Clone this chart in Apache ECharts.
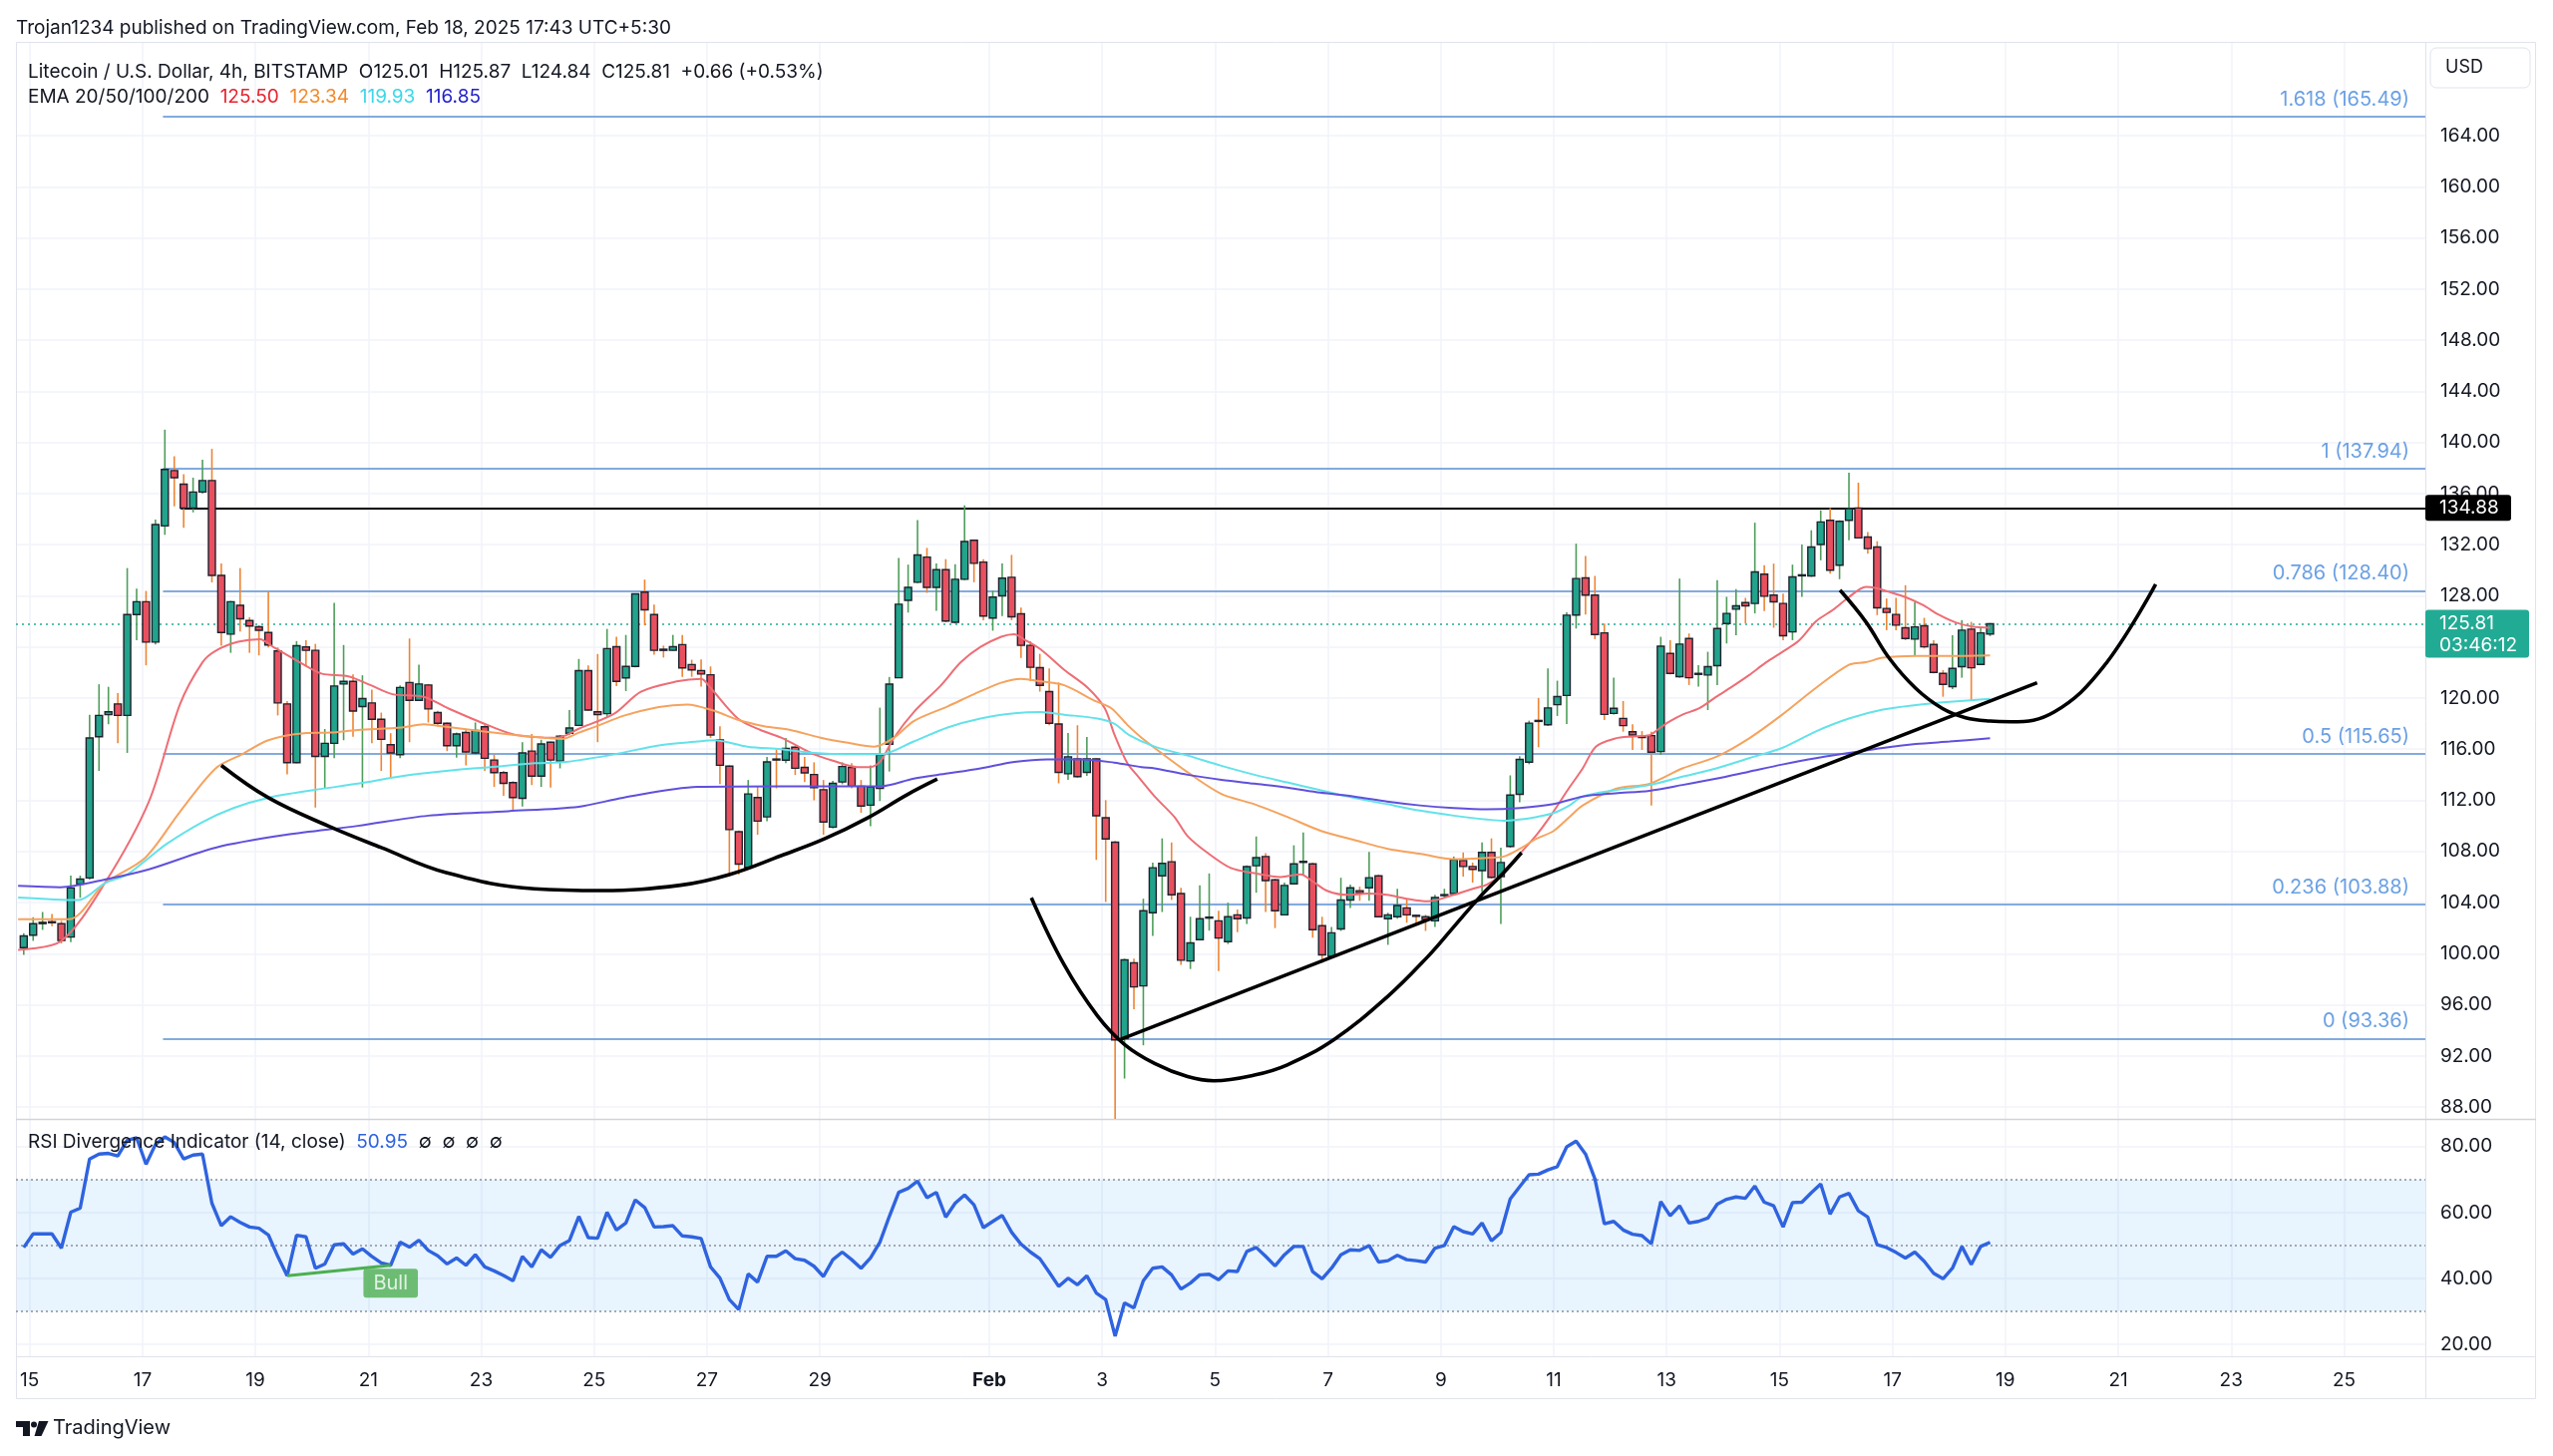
<!DOCTYPE html>
<html>
<head>
<meta charset="utf-8">
<title>Litecoin / U.S. Dollar, 4h</title>
<script src="https://cdn.jsdelivr.net/npm/echarts@6/dist/echarts.min.js"></script>
<style>
  html, body { margin: 0; padding: 0; background: #ffffff; }
  #chart { width: 2560px; height: 1460px; }
</style>
</head>
<body>
<div id="chart"></div>
<script>
// 4h bars, first bar opens Jan 14 21:30 (UTC+5:30), last bar Feb 18 17:30
const opens = [
  100.47, 101.45, 102.35, 102.5, 102.34, 101.3, 105.45, 105.92, 116.97, 118.7,
  119.54, 118.64, 126.53, 127.54, 124.38, 133.47, 137.8, 136.74, 134.86, 136.12,
  137.02, 129.6, 125.0, 127.26, 126.06, 125.58, 125.13, 123.68, 119.54, 114.95,
  124.0, 123.73, 115.43, 116.46, 121.1, 121.3, 119.34, 119.62, 118.34, 116.35,
  115.57, 121.22, 119.82, 121.02, 118.87, 118.03, 116.27, 117.3, 115.71, 117.75,
  115.15, 114.17, 113.39, 112.16, 115.85, 113.89, 116.55, 115.07, 117.25, 117.86,
  122.14, 118.92, 118.78, 124.02, 121.58, 122.48, 128.29, 126.53, 123.82, 123.73,
  124.18, 122.62, 122.15, 121.82, 116.72, 114.67, 109.54, 106.75, 112.21, 110.7,
  115.23, 115.14, 116.16, 114.58, 114.02, 112.83, 109.9, 113.43, 114.58, 113.1,
  111.62, 112.93, 116.39, 121.59, 127.64, 129.06, 131.03, 128.66, 130.04, 125.93,
  129.29, 132.35, 130.64, 126.26, 128.0, 129.45, 126.59, 124.12, 122.38, 120.5,
  117.97, 114.08, 115.24, 114.18, 115.24, 110.63, 108.72, 93.35, 99.28, 97.48,
  103.2, 106.09, 107.19, 104.71, 99.43, 101.1, 102.8, 102.57, 100.94, 103.04,
  102.79, 106.88, 107.6, 105.78, 103.04, 105.46, 107.2, 107.03, 102.19, 99.8,
  101.94, 104.2, 104.93, 105.15, 106.09, 102.73, 102.89, 103.58, 103.0, 102.89,
  102.57, 104.55, 104.71, 107.29, 106.82, 106.5, 107.92, 106.03, 108.39, 112.47,
  114.98, 118.25, 117.91, 119.48, 120.2, 126.49, 129.4, 128.05, 125.1, 118.8,
  118.41, 117.37, 116.99, 117.06, 115.81, 123.49, 121.67, 124.66, 121.9, 121.8,
  122.53, 125.83, 126.95, 127.47, 127.4, 129.69, 128.05, 127.4, 125.18, 129.6,
  129.56, 132.01, 133.91, 130.39, 133.91, 134.87, 132.6, 131.82, 127.01, 126.54,
  125.5, 124.61, 125.65, 124.19, 121.93, 120.89, 122.45, 125.39, 122.63, 125.01
];
const highs = [
  101.6, 102.85, 103.26, 103.1, 102.57, 106.1, 106.11, 118.7, 121.08, 120.88,
  120.38, 130.17, 128.57, 128.38, 133.97, 141.0, 138.92, 137.52, 137.24, 138.64,
  139.5, 130.53, 127.6, 130.17, 126.33, 125.69, 128.35, 123.96, 119.76, 124.46,
  124.52, 124.24, 117.58, 127.45, 124.15, 121.86, 121.78, 120.66, 118.86, 117.25,
  121.0, 124.66, 122.62, 121.1, 119.0, 118.09, 117.3, 117.52, 118.09, 117.95,
  115.57, 114.3, 113.5, 116.55, 117.19, 116.74, 116.6, 117.1, 119.06, 123.06,
  122.56, 123.45, 125.41, 124.8, 124.94, 128.2, 129.27, 127.31, 124.1, 124.94,
  124.94, 123.0, 123.03, 122.47, 117.8, 114.74, 109.64, 113.59, 113.1, 115.4,
  115.96, 116.88, 116.22, 115.4, 114.97, 113.59, 113.53, 114.97, 114.9, 113.59,
  114.74, 119.25, 121.65, 130.96, 130.44, 133.93, 131.75, 130.54, 130.87, 130.47,
  135.08, 132.4, 130.87, 128.4, 130.54, 131.2, 127.08, 124.45, 123.46, 122.31,
  121.22, 117.27, 117.87, 116.95, 115.3, 112.01, 108.82, 99.61, 99.61, 104.3,
  107.13, 109.02, 108.7, 105.15, 102.89, 105.34, 106.28, 103.36, 103.99, 103.45,
  106.91, 109.17, 107.86, 105.87, 105.56, 108.48, 109.49, 107.13, 102.89, 102.1,
  105.94, 105.4, 105.24, 107.97, 106.19, 103.2, 105.08, 104.3, 103.04, 103.04,
  104.61, 105.08, 107.6, 107.92, 107.13, 108.7, 109.02, 108.29, 113.95, 115.45,
  118.23, 120.01, 122.31, 121.36, 126.7, 132.08, 131.12, 129.56, 125.83, 121.59,
  119.77, 117.94, 117.42, 117.37, 124.79, 124.53, 129.35, 125.05, 122.58, 123.62,
  129.22, 127.92, 128.52, 127.84, 133.72, 130.39, 130.52, 128.18, 130.44, 132.01,
  133.13, 134.69, 134.87, 133.91, 137.63, 136.85, 132.99, 132.27, 127.79, 127.84,
  128.83, 127.53, 126.28, 124.53, 122.19, 124.92, 126.1, 125.96, 125.5, 125.87
];
const lows = [
  99.9, 101.0, 101.86, 102.15, 100.8, 100.9, 104.38, 105.8, 114.3, 117.95,
  116.46, 115.71, 124.52, 122.56, 124.2, 132.77, 135.0, 133.33, 134.53, 136.0,
  129.05, 124.1, 123.54, 125.2, 123.54, 123.34, 123.96, 118.64, 114.03, 114.9,
  122.56, 111.43, 112.91, 115.3, 116.7, 116.97, 113.0, 116.46, 114.3, 113.75,
  115.3, 116.55, 119.76, 118.09, 117.8, 115.85, 115.34, 114.73, 115.6, 114.3,
  113.05, 112.35, 111.23, 111.51, 113.19, 113.05, 113.0, 114.5, 117.1, 117.8,
  119.0, 116.55, 118.5, 120.94, 120.55, 122.4, 125.69, 123.4, 123.17, 123.7,
  121.66, 121.66, 120.9, 116.88, 113.26, 106.2, 106.19, 106.68, 109.3, 110.37,
  112.93, 114.9, 113.98, 113.43, 112.0, 109.31, 109.8, 113.26, 112.93, 111.02,
  109.97, 111.94, 114.25, 121.55, 126.69, 128.99, 128.23, 126.82, 125.93, 125.83,
  129.22, 129.06, 126.09, 125.27, 126.42, 126.09, 123.13, 121.32, 120.5, 117.87,
  113.33, 113.59, 113.75, 113.92, 107.34, 104.05, 86.87, 90.23, 95.65, 92.83,
  101.38, 103.26, 104.2, 99.12, 98.8, 101.05, 101.8, 98.64, 100.75, 101.69,
  102.32, 104.77, 103.26, 102.0, 103.0, 105.4, 106.18, 101.25, 99.28, 99.74,
  101.78, 103.58, 104.14, 104.14, 102.86, 100.69, 102.73, 102.42, 102.32, 101.78,
  102.1, 104.39, 104.61, 106.03, 105.56, 104.83, 105.87, 102.32, 108.29, 111.84,
  114.82, 116.15, 117.82, 118.6, 117.97, 125.44, 126.54, 124.61, 118.28, 118.72,
  117.37, 115.94, 115.94, 111.59, 115.55, 121.85, 121.59, 121.02, 120.89, 119.06,
  121.02, 124.27, 124.92, 125.83, 126.62, 126.8, 125.5, 124.53, 124.53, 127.92,
  129.48, 130.78, 129.74, 129.3, 132.35, 132.48, 131.3, 126.49, 125.31, 125.31,
  124.53, 123.36, 123.88, 121.93, 120.1, 120.7, 121.59, 119.84, 122.58, 124.84
];
const closes = [
  101.39, 102.34, 102.45, 102.45, 101.03, 105.14, 105.84, 116.88, 118.64, 118.92,
  118.64, 126.53, 127.54, 124.38, 133.58, 137.88, 137.24, 134.86, 136.12, 137.02,
  129.6, 125.13, 127.54, 126.2, 125.64, 125.3, 124.15, 119.62, 114.95, 124.1,
  123.73, 115.43, 116.46, 120.94, 121.3, 118.98, 119.96, 118.34, 116.77, 115.71,
  120.83, 119.82, 121.1, 119.15, 118.03, 116.27, 117.19, 115.79, 117.47, 115.29,
  114.17, 113.33, 112.21, 115.71, 113.89, 116.41, 115.15, 117.02, 117.66, 122.14,
  119.06, 118.7, 123.87, 121.3, 122.48, 128.15, 126.9, 123.73, 123.73, 124.02,
  122.36, 122.2, 121.88, 117.11, 114.74, 109.71, 107.01, 112.5, 110.37, 115.0,
  115.17, 116.06, 114.51, 114.15, 112.99, 110.3, 113.33, 114.64, 113.1, 111.55,
  113.03, 115.56, 121.09, 127.34, 128.66, 131.2, 128.66, 130.04, 126.03, 129.29,
  132.25, 130.54, 126.42, 127.9, 129.38, 126.36, 124.12, 122.41, 120.99, 118.03,
  114.18, 115.4, 113.85, 115.24, 110.79, 108.98, 93.25, 99.51, 97.4, 103.36,
  106.72, 107.07, 104.61, 99.49, 100.84, 102.73, 102.86, 101.22, 102.89, 102.73,
  106.81, 107.51, 105.72, 103.36, 105.34, 107.03, 107.22, 101.88, 99.9, 101.63,
  104.2, 105.15, 104.77, 105.94, 102.89, 103.04, 103.77, 103.04, 102.95, 102.67,
  104.39, 104.62, 107.35, 106.82, 106.6, 107.92, 105.97, 107.13, 112.41, 115.2,
  118.04, 118.2, 119.23, 120.11, 126.48, 129.35, 128.05, 124.97, 118.72, 119.2,
  117.84, 117.11, 116.97, 115.76, 124.06, 121.93, 124.22, 121.59, 121.93, 122.45,
  125.44, 126.62, 127.21, 127.21, 129.87, 127.97, 127.53, 124.87, 129.48, 129.64,
  131.82, 133.78, 130.0, 133.83, 134.82, 132.53, 131.69, 127.06, 126.7, 125.7,
  124.66, 125.57, 124.01, 122.01, 121.07, 122.32, 125.31, 122.37, 125.1, 125.81
];

// RSI(14) per bar
const rsi = [
  49.4, 53.5, 53.5, 53.5, 49.2, 60.1, 61.3, 76.2, 77.7, 77.9,
  77.1, 81.9, 82.6, 74.6, 80.6, 82.9, 81.2, 76.2, 77.4, 77.7,
  62.8, 56.0, 58.7, 57.0, 55.6, 55.2, 53.2, 46.7, 40.8, 53.1,
  52.6, 43.1, 44.4, 50.2, 50.5, 47.4, 49.0, 46.7, 44.7, 44.0,
  51.0, 49.5, 51.6, 48.5, 46.9, 44.4, 46.2, 44.0, 47.2, 43.5,
  42.3, 40.9, 39.3, 46.7, 43.5, 48.7, 46.4, 50.0, 51.5, 58.8,
  52.4, 52.2, 60.1, 54.7, 56.8, 63.8, 61.5, 55.6, 55.7, 56.0,
  52.9, 52.6, 52.1, 43.5, 40.1, 33.6, 30.6, 41.4, 38.9, 46.7,
  46.7, 48.4, 46.0, 45.5, 43.7, 40.6, 45.7, 48.0, 45.7, 43.1,
  46.2, 51.0, 58.8, 66.1, 67.3, 69.5, 64.5, 66.1, 58.6, 62.8,
  65.3, 62.3, 55.4, 57.3, 59.1, 54.0, 50.4, 48.0, 46.0, 41.9,
  37.6, 40.1, 38.1, 40.8, 35.6, 33.6, 22.5, 32.6, 31.1, 39.3,
  43.1, 43.5, 41.1, 36.8, 38.6, 41.1, 41.3, 39.6, 42.3, 42.1,
  48.2, 49.4, 46.7, 43.8, 47.2, 49.7, 49.7, 42.1, 39.9, 43.1,
  47.2, 48.7, 48.5, 50.0, 45.0, 45.4, 47.0, 45.7, 45.4, 45.0,
  49.2, 50.0, 55.7, 54.2, 53.5, 56.8, 51.4, 53.9, 64.1, 67.8,
  71.4, 71.6, 72.9, 73.9, 79.9, 81.6, 77.7, 70.2, 56.6, 57.3,
  54.7, 53.4, 53.0, 50.5, 63.3, 59.0, 62.0, 56.8, 57.3, 58.3,
  62.5, 64.0, 64.7, 64.3, 68.0, 63.1, 62.0, 55.6, 63.0, 63.1,
  66.0, 68.6, 59.5, 64.7, 65.8, 60.5, 58.6, 50.2, 49.4, 47.9,
  46.2, 48.0, 45.2, 41.6, 39.9, 43.1, 49.7, 44.2, 49.7, 50.95
];

// EMA readings as [bar index, value]
const ema20Pts = [
  [-0.6, 100.3], [4, 101.0], [8.6, 105.5], [13.3, 111.9], [16.6, 119.5], [19, 122.8], [20.4, 123.7],
  [22.8, 124.4], [25.1, 124.6], [26.5, 124.0], [29.8, 122.6], [31.7, 121.9], [34.5, 121.7], [36.9, 121.0],
  [39.2, 120.3], [42.5, 120.1], [45.4, 119.1], [49.6, 117.8], [52.4, 117.1], [56.7, 116.9], [59, 117.6],
  [62.8, 118.8], [65.6, 120.5], [69.4, 121.3], [72, 121.5], [73, 120.8], [75.9, 118.4], [78.3, 117.5],
  [80.5, 116.9], [84, 115.6], [86, 115.1], [88.6, 114.6], [90, 114.6], [91.1, 115.1], [92.5, 116.9],
  [94.6, 118.9], [97.5, 121.0], [99.6, 122.8], [101.7, 124.0], [103.9, 124.8], [105.3, 125.0], [106.3, 124.6],
  [108.1, 123.8], [110.6, 122.2], [113.1, 120.8], [114.9, 119.2], [115.9, 117.2], [117.3, 114.9], [118.4, 113.9],
  [120.2, 112.3], [122.3, 110.7], [123.7, 109.2], [125.8, 107.9], [128.3, 106.7], [130.8, 106.3], [133.6, 106.0],
  [135.7, 106.2], [137.1, 105.6], [138.6, 104.9], [140.7, 104.6], [142.8, 104.7], [144.9, 104.6], [147, 104.3],
  [149.2, 104.1], [152, 104.6], [154.1, 105.1], [155.5, 105.4], [157.3, 106.3], [159, 107.8], [160.8, 109.3],
  [162.4, 110.9], [164.1, 112.8], [165.7, 114.5], [167.1, 116.2], [169.2, 116.85], [171, 117.0], [172.8, 117.1],
  [173.8, 117.6], [174.9, 118.15], [176.3, 118.7], [178.1, 119.2], [179.9, 120.1], [181.6, 120.9], [183.4, 121.8],
  [185.2, 122.8], [186.9, 123.6], [188.7, 124.5], [190.5, 126.0], [192.3, 126.9], [194, 127.9], [195.8, 128.7],
  [196.9, 128.6], [198.3, 128.3], [200, 127.9], [201.8, 127.3], [203.6, 126.5], [205.4, 125.9], [207.1, 125.6],
  [209, 125.5]
];
const ema50Pts = [
  [-0.6, 102.7], [4.8, 102.7], [8.6, 105.5], [12.9, 107.5], [16.6, 111.1], [20.4, 114.5], [23.2, 115.6],
  [26, 116.7], [29.8, 117.25], [32.6, 117.3], [35.5, 117.5], [40.2, 117.7], [42.5, 117.95], [44.9, 117.75],
  [48.7, 117.4], [52.4, 117.1], [55.3, 116.9], [57.2, 116.8], [59, 117.3], [60.9, 117.8], [63.7, 118.6],
  [67.5, 119.3], [70.5, 119.5], [73.4, 119.0], [75.9, 118.3], [78.7, 117.8], [81.5, 117.5], [84.7, 116.9],
  [87.6, 116.5], [90.4, 116.2], [92.5, 116.9], [94.6, 118.2], [98.2, 119.35], [101, 120.3], [103.9, 121.2],
  [106, 121.5], [108.1, 121.3], [110.6, 121.0], [113.8, 119.8], [115.6, 119.2], [117.3, 117.9], [118.8, 116.9],
  [120.2, 116.1], [123.7, 114.2], [127.3, 112.5], [130.8, 111.7], [134.3, 110.7], [137.9, 109.6], [141.4, 108.9],
  [145, 108.2], [148.5, 107.8], [152, 107.4], [155.5, 107.5], [157.3, 107.6], [159, 108.2], [160.8, 109.0],
  [162.6, 109.6], [164.3, 110.7], [165.7, 111.6], [169.2, 112.9], [172.8, 113.3], [176.3, 114.5], [179.9, 115.4],
  [183.4, 116.85], [186.9, 118.7], [190.5, 120.8], [194, 122.6], [195.8, 122.8], [197.6, 123.15], [201.1, 123.3],
  [204.7, 123.3], [209, 123.34]
];
const ema100Pts = [
  [-0.6, 104.4], [5.8, 104.2], [8.6, 105.5], [11, 106.2], [13.3, 107.5], [15.2, 108.6], [19, 110.3],
  [22.3, 111.4], [26, 112.2], [30.8, 112.8], [35.5, 113.3], [40.2, 113.9], [44.9, 114.3], [49.6, 114.6],
  [54.3, 114.9], [57.6, 115.0], [62.8, 115.6], [67.5, 116.3], [71.6, 116.6], [73.4, 116.7], [76.9, 116.2],
  [80.5, 116.0], [84, 115.7], [87.6, 115.6], [91.1, 115.6], [94.6, 116.6], [98.2, 117.7], [101.7, 118.4],
  [105.3, 118.8], [108.1, 118.9], [110.6, 118.7], [114.1, 118.4], [115.9, 118.0], [117.5, 117.1], [120.2, 116.2],
  [123.7, 115.5], [127.3, 114.7], [130.8, 114.0], [134.3, 113.4], [137.8, 112.8], [141.4, 112.2], [144.9, 111.7],
  [148.4, 111.2], [152, 110.8], [155.5, 110.5], [157.3, 110.4], [159, 110.5], [160.8, 110.7], [162.6, 111.0],
  [164.3, 111.6], [165.7, 112.3], [169.2, 112.8], [172.8, 113.2], [176.3, 113.85], [179.9, 114.5], [183.4, 115.3],
  [186.9, 116.1], [190.5, 117.4], [194, 118.4], [197.6, 119.1], [201.1, 119.45], [204.7, 119.7], [209, 119.93]
];
const ema200Pts = [
  [-0.6, 105.3], [3.9, 105.2], [8.6, 105.8], [13.3, 106.6], [20.4, 108.3], [27.9, 109.3], [35.5, 110.0],
  [43, 110.8], [51.5, 111.15], [59, 111.5], [63.7, 112.2], [71.6, 113.05], [80.5, 113.1], [87.6, 113.1],
  [91.1, 113.1], [94.6, 113.7], [98.2, 114.1], [101.7, 114.5], [105.3, 115.0], [108.8, 115.2], [112.4, 115.2],
  [115.9, 114.95], [118.8, 114.6], [120.2, 114.5], [123.7, 114.0], [127.3, 113.6], [130.8, 113.3], [134.3, 113.0],
  [137.8, 112.6], [141.4, 112.3], [144.9, 111.9], [148.4, 111.6], [152, 111.4], [155.5, 111.3], [159, 111.4],
  [162.6, 111.7], [165.7, 112.3], [169.2, 112.55], [172.8, 112.75], [176.3, 113.2], [179.9, 113.7], [183.4, 114.25],
  [186.9, 114.8], [190.5, 115.3], [194, 115.7], [197.6, 116.1], [201.1, 116.4], [204.7, 116.6], [209, 116.85]
];

// fibonacci retracement
const fibRatios = ['1.618', '1', '0.786', '0.5', '0.236', '0'];
const fibLevels = [165.49, 137.94, 128.40, 115.65, 103.88, 93.36];
const FIB_START = 14.8;
const BLACK_LEVEL = 134.88;
const BLACK_START = 16.7;
const LAST_CLOSE = 125.81;
const COUNTDOWN = '03:46:12';

// hand drawn annotations, [bar index, price]
const leftCup = [
  [21.0, 114.73], [26, 112.2], [32.4, 109.98], [38, 108.3], [44.9, 106.34], [54.3, 105.08], [61.4, 104.94],
  [69.8, 105.36], [75, 106.19], [80.5, 107.67], [85.1, 108.98], [89.7, 110.63], [93.9, 112.44], [97.1, 113.66]
];
const bigCup = [
  [107.1, 104.38], [110.6, 99.11], [114.1, 95.16], [117, 92.9], [120.2, 91.41], [123.7, 90.38], [126.5, 90.06],
  [130.8, 90.5], [134.3, 91.3], [139.3, 93.3], [144.9, 96.6], [149.2, 99.74], [152, 102.1], [154.8, 104.46],
  [157.3, 106.34], [159.2, 107.9]
];
const trendLine = [[116.6, 93.3], [214, 121.2]];
const rightCup = [
  [193.05, 128.44], [195.8, 125.96], [198.3, 123.1], [201.1, 120.76], [203.9, 119.2], [206.4, 118.46],
  [209, 118.2], [211.2, 118.15], [215.8, 118.9], [221, 122.4], [226.6, 128.9]
];
const bullDiv = [[28, 40.8], [39, 44.0]];

// time axis: days from Jan 15 00:00
const tickDays = [0, 2, 4, 6, 8, 10, 12, 14, 17, 19, 21, 23, 25, 27, 29, 31, 33, 35, 37, 39, 41];
const tickLabels = ['15', '17', '19', '21', '23', '25', '27', '29', 'Feb', '3', '5', '7', '9', '11', '13', '15', '17', '19', '21', '23', '25'];
const priceTicks = [88, 92, 96, 100, 104, 108, 112, 116, 120, 124, 128, 132, 136, 140, 144, 148, 152, 156, 160, 164];
const rsiTicks = [20, 40, 60, 80];

const X_MIN = -0.242, X_MAX = 42.44;
const Y_MIN = 87.07, Y_MAX = 171.34;
const RSI_MIN = 16.43, RSI_MAX = 88.34;

const FONT = 'Inter, "Noto Sans", sans-serif';
const TEXT = '#131722';
const GRID_LINE = '#f0f3fa';
const FRAME = '#e0e3eb';
const UP = '#22a38b', DOWN = '#e9505f';
const WICK_UP = '#4f9d5a', WICK_DOWN = '#ee8435';

const barDay = k => (4 * k - 2.5) / 24;
const toXY = pts => pts.map(([k, v]) => [barDay(k), v]);

const candleData = opens.map((o, k) => [barDay(k), o, closes[k], lows[k], highs[k]]);
const rsiData = rsi.map((v, k) => [barDay(k), v]);

function renderCandle(params, api) {
  const x = api.value(0);
  const o = api.value(1), c = api.value(2), l = api.value(3), h = api.value(4);
  const pO = api.coord([x, o]), pC = api.coord([x, c]);
  const pL = api.coord([x, l]), pH = api.coord([x, h]);
  const w = api.size([1 / 6, 0])[0] * 0.74;
  const up = c >= o;
  const top = Math.min(pO[1], pC[1]);
  const hgt = Math.max(Math.abs(pO[1] - pC[1]), 1);
  return {
    type: 'group',
    children: [
      { type: 'line', shape: { x1: pH[0], y1: pH[1], x2: pL[0], y2: pL[1] },
        style: { stroke: up ? WICK_UP : WICK_DOWN, lineWidth: 1.6 } },
      { type: 'rect', shape: { x: pO[0] - w / 2, y: top, width: w, height: hgt },
        style: { fill: up ? UP : DOWN, stroke: '#1e222d', lineWidth: 1.4 } }
    ]
  };
}

const emaLine = (name, pts, color) => ({
  type: 'line', name, xAxisIndex: 0, yAxisIndex: 0, data: toXY(pts),
  smooth: 0.3, symbol: 'none', lineStyle: { color, width: 2 }, z: 6, silent: true
});

const drawing = pts => ({
  type: 'line', xAxisIndex: 0, yAxisIndex: 0, data: toXY(pts),
  smooth: 0.4, symbol: 'none', lineStyle: { color: '#000000', width: 3.6 }, z: 8, silent: true
});

const fibMarks = fibLevels.map((lv, i) => [
  {
    coord: [barDay(FIB_START), lv],
    lineStyle: { color: '#5a8fd2', width: 1.5, type: 'solid' },
    label: {
      show: true, position: 'insideEndTop', distance: [16, 7],
      formatter: fibRatios[i] + ' (' + lv.toFixed(2) + ')',
      color: '#6aa0e4', fontSize: 20, fontFamily: FONT
    }
  },
  { coord: [X_MAX, lv] }
]);

const option = {
  animation: false,
  backgroundColor: '#ffffff',
  textStyle: { fontFamily: FONT },
  grid: [
    { left: 16, right: 128, top: 42, height: 1080 },
    { left: 16, right: 128, top: 1122, height: 238 }
  ],
  xAxis: [
    {
      type: 'value', gridIndex: 0, min: X_MIN, max: X_MAX,
      axisLine: { show: false },
      axisTick: { show: false, customValues: tickDays },
      axisLabel: { show: false },
      splitLine: { show: true, lineStyle: { color: GRID_LINE, width: 1.5 } }
    },
    {
      type: 'value', gridIndex: 1, min: X_MIN, max: X_MAX,
      axisLine: { show: false },
      axisTick: { show: false, customValues: tickDays },
      axisLabel: {
        customValues: tickDays, margin: 15, color: TEXT, fontSize: 19, fontFamily: FONT,
        formatter: v => {
          const t = tickLabels[tickDays.indexOf(v)];
          return t === 'Feb' ? '{b|Feb}' : t;
        },
        rich: { b: { fontWeight: 'bold', fontSize: 19, color: TEXT, fontFamily: FONT } }
      },
      splitLine: { show: true, lineStyle: { color: GRID_LINE, width: 1.5 } }
    }
  ],
  yAxis: [
    {
      type: 'value', gridIndex: 0, position: 'right', min: Y_MIN, max: Y_MAX,
      axisLine: { show: false },
      axisTick: { show: false, customValues: priceTicks },
      axisLabel: { customValues: priceTicks, formatter: v => v.toFixed(2), margin: 15, color: TEXT, fontSize: 19, fontFamily: FONT },
      splitLine: { show: true, lineStyle: { color: GRID_LINE, width: 1.5 } }
    },
    {
      type: 'value', gridIndex: 1, position: 'right', min: RSI_MIN, max: RSI_MAX,
      axisLine: { show: false },
      axisTick: { show: false, customValues: rsiTicks },
      axisLabel: { customValues: rsiTicks, formatter: v => v.toFixed(2), margin: 15, color: TEXT, fontSize: 19, fontFamily: FONT },
      splitLine: { show: true, lineStyle: { color: GRID_LINE, width: 1.5 } }
    }
  ],
  series: [
    {
      type: 'line', name: 'levels', xAxisIndex: 0, yAxisIndex: 0, data: [], z: 3, silent: true,
      markLine: {
        silent: true, symbol: ['none', 'none'], animation: false,
        data: fibMarks.concat([
          [
            { coord: [barDay(BLACK_START), BLACK_LEVEL], lineStyle: { color: '#000000', width: 2, type: 'solid' }, label: { show: false } },
            { coord: [X_MAX, BLACK_LEVEL] }
          ],
          [
            { coord: [X_MIN, LAST_CLOSE], lineStyle: { color: '#22ab94', width: 1.5, type: [2, 4] }, label: { show: false } },
            { coord: [X_MAX, LAST_CLOSE] }
          ]
        ])
      }
    },
    {
      type: 'custom', name: 'LTCUSD', xAxisIndex: 0, yAxisIndex: 0,
      renderItem: renderCandle, encode: { x: 0, y: [1, 2, 3, 4] },
      data: candleData, clip: true, z: 5, silent: true
    },
    emaLine('EMA 20', ema20Pts, '#ee6d75'),
    emaLine('EMA 50', ema50Pts, '#f5a35e'),
    emaLine('EMA 100', ema100Pts, '#63e2ea'),
    emaLine('EMA 200', ema200Pts, '#6050dc'),
    drawing(leftCup),
    drawing(bigCup),
    drawing(trendLine),
    drawing(rightCup),
    {
      type: 'line', name: 'RSI', xAxisIndex: 1, yAxisIndex: 1, data: rsiData,
      symbol: 'none', lineStyle: { color: '#2f63df', width: 3.4 }, z: 6, silent: true,
      markArea: {
        silent: true,
        itemStyle: { color: 'rgba(33, 150, 243, 0.1)' },
        data: [[{ yAxis: 30 }, { yAxis: 70 }]]
      },
      markLine: {
        silent: true, symbol: ['none', 'none'], animation: false,
        label: { show: false },
        lineStyle: { color: '#8a8e99', width: 1.5, type: [2, 3] },
        data: [{ yAxis: 70 }, { yAxis: 50 }, { yAxis: 30 }]
      }
    },
    {
      type: 'line', xAxisIndex: 1, yAxisIndex: 1, data: toXY(bullDiv),
      symbol: 'none', lineStyle: { color: '#4caf50', width: 3 }, z: 7, silent: true
    },
    {
      type: 'scatter', xAxisIndex: 1, yAxisIndex: 1, data: [toXY(bullDiv)[1]],
      symbolSize: 1, itemStyle: { color: 'rgba(0,0,0,0)' }, z: 9, silent: true,
      label: {
        show: true, position: 'bottom', distance: 3, formatter: 'Bull',
        backgroundColor: '#4caf50', color: '#ffffff', fontSize: 20, fontFamily: FONT,
        padding: [5, 10, 4, 10], borderRadius: 3
      }
    }
  ]
};

const chart = echarts.init(document.getElementById('chart'), null, { renderer: 'canvas' });
chart.setOption(option);

const yBlack = chart.convertToPixel({ yAxisIndex: 0 }, BLACK_LEVEL);
const yLast = chart.convertToPixel({ yAxisIndex: 0 }, LAST_CLOSE);

const txt = (x, y, text, extra) => ({
  type: 'text', x, y, z: 100, silent: true,
  style: Object.assign({ text, fontSize: 19, fontFamily: FONT, fill: TEXT, verticalAlign: 'middle' }, extra || {})
});

chart.setOption({
  graphic: [
    { type: 'rect', z: 1, silent: true, shape: { x: 16.5, y: 42.5, width: 2526, height: 1360 },
      style: { fill: 'none', stroke: FRAME, lineWidth: 1 } },
    { type: 'line', z: 1, silent: true, shape: { x1: 2432.5, y1: 42, x2: 2432.5, y2: 1403 }, style: { stroke: FRAME, lineWidth: 1 } },
    { type: 'line', z: 1, silent: true, shape: { x1: 16, y1: 1122.5, x2: 2543, y2: 1122.5 }, style: { stroke: '#d1d4dc', lineWidth: 1.5 } },
    { type: 'line', z: 1, silent: true, shape: { x1: 16, y1: 1360.5, x2: 2543, y2: 1360.5 }, style: { stroke: FRAME, lineWidth: 1 } },

    txt(16, 28, 'Trojan1234 published on TradingView.com, Feb 18, 2025 17:43 UTC+5:30'),
    txt(28, 72, 'Litecoin / U.S. Dollar, 4h, BITSTAMP  O125.01  H125.87  L124.84  C125.81  +0.66 (+0.53%)'),
    txt(28, 97, '{n|EMA 20/50/100/200}  {a|125.50}  {b|123.34}  {c|119.93}  {d|116.85}', {
      rich: {
        n: { fill: TEXT, fontSize: 19, fontFamily: FONT },
        a: { fill: '#e5232f', fontSize: 19, fontFamily: FONT },
        b: { fill: '#f08a2a', fontSize: 19, fontFamily: FONT },
        c: { fill: '#3ad8ea', fontSize: 19, fontFamily: FONT },
        d: { fill: '#2323c8', fontSize: 19, fontFamily: FONT }
      }
    }),
    txt(28, 1145, '{n|RSI Divergence Indicator (14, close)}  {v|50.95}  {n|\u2205  \u2205  \u2205  \u2205}', {
      rich: {
        n: { fill: TEXT, fontSize: 19, fontFamily: FONT },
        v: { fill: '#2f63df', fontSize: 19, fontFamily: FONT }
      }
    }),

    { type: 'rect', z: 100, silent: true, shape: { x: 2437, y: 48, width: 100, height: 40, r: 6 },
      style: { fill: '#ffffff', stroke: FRAME, lineWidth: 1 } },
    txt(2452, 68, 'USD', { fontSize: 18 }),

    { type: 'rect', z: 100, silent: true, shape: { x: 2432, y: yBlack - 13, width: 86, height: 26, r: 3 }, style: { fill: '#000000' } },
    txt(2446, yBlack, BLACK_LEVEL.toFixed(2), { fill: '#ffffff' }),
    { type: 'rect', z: 100, silent: true, shape: { x: 2432, y: yLast - 14, width: 104, height: 48, r: 3 }, style: { fill: '#22ab94' } },
    txt(2446, yLast, LAST_CLOSE.toFixed(2), { fill: '#ffffff' }),
    txt(2446, yLast + 22, COUNTDOWN, { fill: '#ffffff' }),

    // TradingView mark
    { type: 'rect', z: 100, silent: true, shape: { x: 16, y: 1425, width: 14, height: 6 }, style: { fill: '#131722' } },
    { type: 'rect', z: 100, silent: true, shape: { x: 23, y: 1425, width: 7, height: 15 }, style: { fill: '#131722' } },
    { type: 'circle', z: 100, silent: true, shape: { cx: 34, cy: 1428.5, r: 3 }, style: { fill: '#131722' } },
    { type: 'polygon', z: 100, silent: true, shape: { points: [[39, 1425], [48.5, 1425], [41.5, 1440], [34.5, 1440]] }, style: { fill: '#131722' } },
    txt(53, 1432, 'TradingView', { fontSize: 20 })
  ]
});
</script>
</body>
</html>
